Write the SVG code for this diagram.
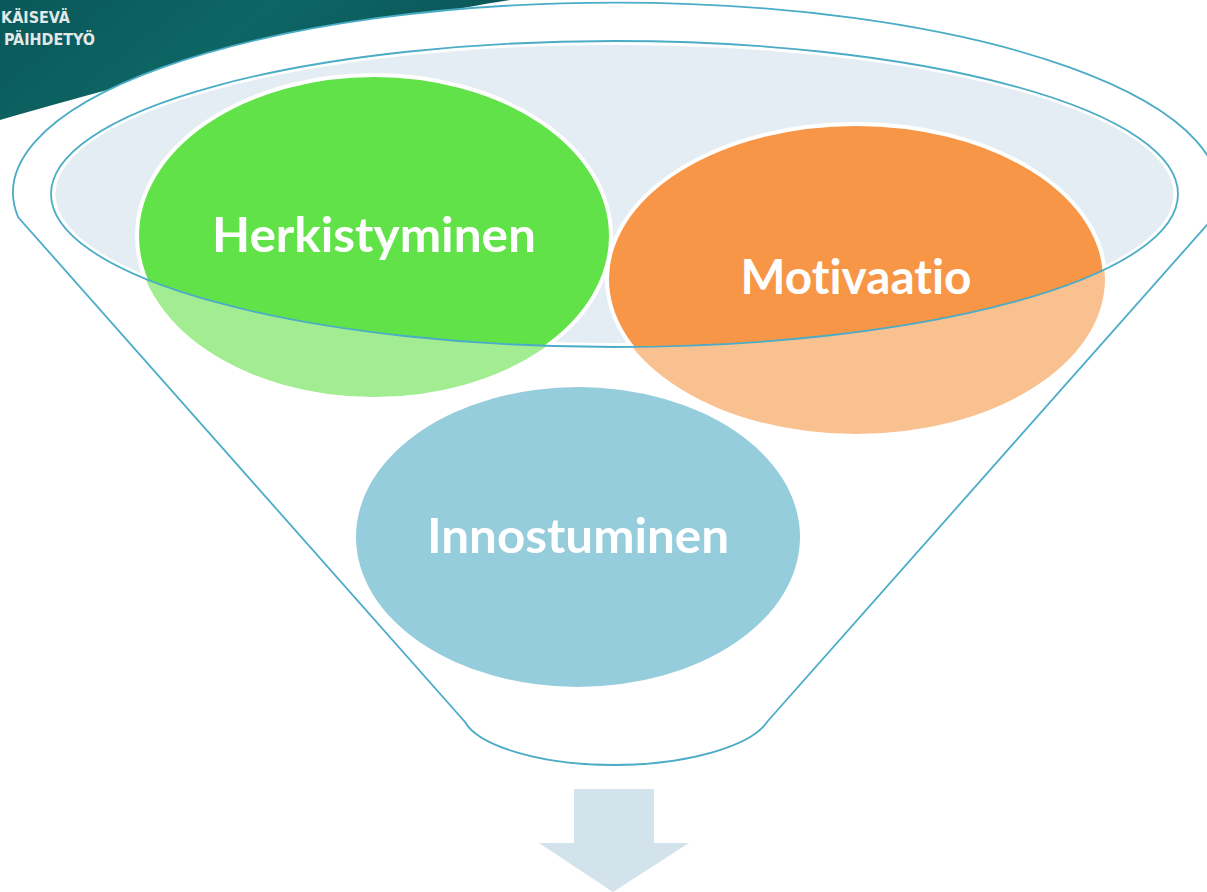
<svg xmlns="http://www.w3.org/2000/svg" width="1207" height="892" viewBox="0 0 1207 892">
<defs>
<linearGradient id="dark" x1="0" y1="0" x2="1" y2="0.3">
<stop offset="0" stop-color="#0A5859"/>
<stop offset="0.5" stop-color="#0D6664"/>
<stop offset="1" stop-color="#0B5457"/>
</linearGradient>
<clipPath id="rim"><ellipse cx="614.5" cy="194" rx="563.5" ry="153"/></clipPath>
<style>
.line{fill:none;stroke:#4BACC6;stroke-width:1.8}
.lbl{font-family:Lato,"Open Sans",sans-serif;font-weight:bold;font-size:48px;fill:#FFFFFF;text-anchor:middle;font-variant-ligatures:none;font-feature-settings:"liga" 0,"clig" 0}
.logo{font-family:"DejaVu Sans Condensed","DejaVu Sans",sans-serif;font-weight:bold;font-size:16px;fill:#E2E8E8}
</style>
</defs>
<rect width="1207" height="892" fill="#FFFFFF"/>
<g id="background">
<path d="M0,0 H510 C420,14 250,48 0,120 Z" fill="url(#dark)"/>
<text class="logo" x="1" y="23" textLength="69" lengthAdjust="spacingAndGlyphs">KÄISEVÄ</text>
<text class="logo" x="4" y="45" textLength="91" lengthAdjust="spacingAndGlyphs">PÄIHDETYÖ</text>
</g>
<g id="funnel">
<path d="M18,217 A603,190 0 1 1 1214,217 L767,722 C752,745 690,765 614,765 C538,765 478,745 465,722 Z" fill="#FFFFFF" stroke="#4BACC6" stroke-width="1.8"/>
<ellipse cx="614.5" cy="194" rx="559" ry="149" fill="#E3EDF3"/>
</g>
<g id="herkistyminen">
<ellipse cx="374" cy="236" rx="237" ry="161" fill="#A2EC91"/>
<ellipse cx="374" cy="236" rx="237" ry="161" fill="#62E249" stroke="#FFFFFF" stroke-width="4" clip-path="url(#rim)"/>
<text class="lbl" x="374" y="252" textLength="324" lengthAdjust="spacingAndGlyphs">Herkistyminen</text>
</g>
<g id="motivaatio">
<ellipse cx="856" cy="279" rx="249" ry="155" fill="#F9C190"/>
<ellipse cx="856" cy="279" rx="249" ry="155" fill="#F79646" stroke="#FFFFFF" stroke-width="4" clip-path="url(#rim)"/>
<text class="lbl" x="856" y="294" textLength="231" lengthAdjust="spacingAndGlyphs">Motivaatio</text>
</g>
<g id="innostuminen">
<ellipse cx="578" cy="537" rx="222" ry="150" fill="#95CDDC"/>
<text class="lbl" x="578" y="553" textLength="302" lengthAdjust="spacingAndGlyphs">Innostuminen</text>
</g>
<g id="connectors">
<ellipse class="line" cx="614.5" cy="194" rx="563.5" ry="153"/>
<polygon points="574,789 654,789 654,843 689,843 613,892 539,843 574,843" fill="#D2E3EB"/>
</g>
</svg>
